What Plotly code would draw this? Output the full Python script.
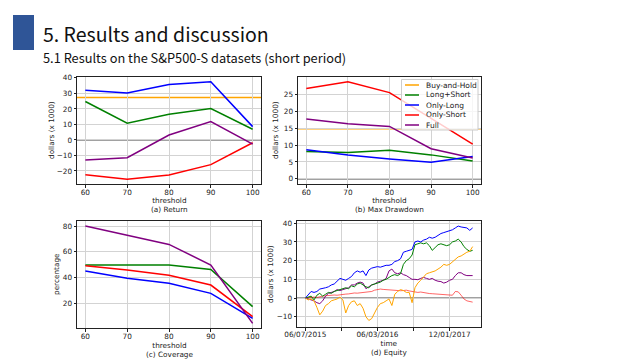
import plotly.graph_objects as go

# ---------------- data ----------------
thresholds = [60, 70, 80, 90, 100]
series_names = ["Buy-and-Hold", "Long+Short", "Only-Long", "Only-Short", "Full"]
series_colors = ["orange", "green", "blue", "red", "purple"]

# (a) Return (dollars x 1000)
return_bh = 27.4
return_ls = [24.8, 10.8, 16.6, 20.3, 6.9]
return_ol = [32.0, 30.3, 35.7, 37.6, 8.6]
return_os = [-22.4, -25.4, -22.6, -15.9, -1.8]
return_full = [-13.0, -11.4, 3.2, 11.8, -2.7]

# (b) Max Drawdown (dollars x 1000)
mdd_bh = 14.8
mdd_ls = [8.1, 7.8, 8.5, 7.1, 5.3]
mdd_ol = [8.6, 7.1, 5.9, 4.9, 6.6]
mdd_os = [26.7, 28.7, 25.5, 17.8, 10.3]
mdd_full = [17.7, 16.3, 15.5, 8.9, 6.2]

# (c) Coverage (percentage)
cov_ls = [49.9, 49.8, 49.9, 46.5, 17.7]
cov_ol = [45.2, 39.6, 35.7, 28.0, 8.7]
cov_os = [49.4, 46.0, 41.9, 34.4, 10.0]
cov_full = [80.0, 73.0, 65.8, 49.9, 4.8]

# (d) Equity (dollars x 1000), sampled every 8 trading days
day_index = list(range(0, 465, 8))
equity_bh = [0, -1, -0.5, -1.5, -5, -9, -7, -4, -3, -1.5, -1, -0.5, 0.5, -1, -8, -4,
             -2, -1.5, -4, -3, -5.5, -10, -12, -11, -8, -5, -3, -2.5, -1.5, -0.5, -4, 2,
             3.5, 4.5, 4, 3, 3, -2.5, 5.5, 8, 9.5, 11, 13, 13.5, 14, 14.5, 15.5, 16.5,
             18, 17.5, 18, 19.5, 21, 22, 22.5, 23.5, 24.5, 25, 27.5]
equity_ls = [0, 0.5, 1, -1, 1.5, 2.5, 1, 2, 3, 2.5, 3.5, 4, 4.5, 5, 5.5, 5,
             6.5, 6, 7.5, 8, 7, 6, 5.5, 7, 7.5, 8, 8.5, 9.5, 10, 11, 12, 12.5,
             12, 13, 18, 20, 21, 23, 28.5, 29, 29.5, 29, 29.5, 28, 25.5, 27, 28.5, 29,
             28.5, 28, 28.5, 30, 30.5, 31.5, 30, 27.5, 26, 25, 25.5]
equity_ol = [0, 1.5, 3.5, 3, 3.5, 4.8, 5, 5.5, 6, 7, 7.5, 9, 10.5, 10, 9.5, 10.5,
             11.5, 13.5, 14.5, 13.8, 14.5, 12, 15, 16, 16.2, 16.8, 16.5, 17, 17.5, 17.5, 18, 19.5,
             20, 21, 24.5, 25, 25.5, 26, 30, 30.5, 30, 31, 31.5, 32.5, 32, 32.5, 33.5, 34.5,
             35, 35.5, 36, 36.5, 37.5, 38.5, 38, 37.8, 37.5, 36.2, 37.5]
equity_os = [0, 0.3, 0.5, 0.5, 0.3, 0.8, 1, 1.2, 1.4, 1.5, 1.6, 1.5, 1.8, 2, 2.1, 2.2,
             2.5, 2.7, 2.6, 2.8, 3, 3.1, 3.2, 3.5, 4.2, 4.5, 4.8, 4.6, 4.5, 4.4, 4.3, 4,
             3.8, 3.9, 4, 4.2, 3.8, 3.5, 3.2, 3, 3.2, 2.8, 2.5, 2.4, 2.3, 2.2, 2, 1.8,
             1.6, 1.5, 1.6, 1.5, 3.5, 3.3, 1.5, -0.5, -1.5, -2, -2.2]
equity_full = [0, -0.5, -1, -1.5, -2.5, -3, -1.5, 1, 2.5, 3, 3.5, 4.5, 4, 4.5, 5, 5.5,
               7, 7, 8, 8.5, 8, 5, 6, 7, 7.5, 8.5, 9, 9.5, 10.5, 14.5, 15.5, 13.5,
               13, 13.5, 12.5, 12, 11, 10, 10, 9.8, 10.5, 11, 10.5, 10, 10.5, 9.5, 9, 8.8,
               8, 8.5, 9.5, 10, 12, 13.5, 13.5, 12.5, 12, 12, 12]
equity_tickvals = [0, 100, 200, 300, 400]
equity_ticktext = ["06/07/2015", "", "06/03/2016", "", "12/01/2017"]

# ---------------- figure ----------------
W, H = 640, 360


def fx(px):
    return px / W


def fy(py):
    return 1 - py / H


fig = go.Figure()

panels = {
    "a": dict(xd=[fx(77), fx(261)], yd=[fy(184), fy(77)]),
    "b": dict(xd=[fx(298), fx(481)], yd=[fy(184), fy(77)]),
    "c": dict(xd=[fx(77), fx(261)], yd=[fy(328), fy(221)]),
    "d": dict(xd=[fx(297), fx(481)], yd=[fy(327), fy(221)]),
}


def add_lines(vals_list, xa, ya, width=1.5):
    for name, col, vals in zip(series_names[1:], series_colors[1:], vals_list):
        fig.add_trace(go.Scatter(x=thresholds, y=vals, mode="lines", name=name,
                                 line=dict(color=col, width=width),
                                 xaxis=xa, yaxis=ya, showlegend=False))


add_lines([return_ls, return_ol, return_os, return_full], "x", "y")
add_lines([mdd_ls, mdd_ol, mdd_os, mdd_full], "x2", "y2")
add_lines([cov_ls, cov_ol, cov_os, cov_full], "x3", "y3")

eq_series = [("Only-Short", "rgba(255,0,0,0.6)", equity_os),
             ("Full", "purple", equity_full),
             ("Long+Short", "green", equity_ls),
             ("Only-Long", "blue", equity_ol),
             ("Buy-and-Hold", "orange", equity_bh)]
for name, col, vals in eq_series:
    fig.add_trace(go.Scatter(x=day_index, y=vals, mode="lines", name=name,
                             line=dict(color=col, width=1), xaxis="x4", yaxis="y4",
                             showlegend=False))

tickfont = dict(family="DejaVu Sans", size=7.3, color="#222")
axis_common = dict(showline=True, linecolor="#222", linewidth=1, mirror=True,
                   ticks="outside", ticklen=2.5, tickcolor="#222", tickfont=tickfont,
                   showgrid=True, gridcolor="#d3d3d3", gridwidth=1, zeroline=False)

layout = dict(
    width=W, height=H, margin=dict(l=0, r=0, t=0, b=0, autoexpand=False),
    paper_bgcolor="white", plot_bgcolor="white", showlegend=False,
)

thr_ticks = dict(tickmode="array", tickvals=thresholds, ticklabelstandoff=-1)
layout["xaxis"] = dict(axis_common, domain=panels["a"]["xd"], anchor="y", range=[58, 102], **thr_ticks)
layout["yaxis"] = dict(axis_common, domain=panels["a"]["yd"], anchor="x", range=[-28.4, 40.6],
                       tickmode="array", tickvals=[-20, -10, 0, 10, 20, 30, 40],
                       ticktext=["\u221220", "\u221210", "0", "10", "20", "30", "40"])
layout["xaxis2"] = dict(axis_common, domain=panels["b"]["xd"], anchor="y2", range=[58, 102], **thr_ticks)
layout["yaxis2"] = dict(axis_common, domain=panels["b"]["yd"], anchor="x2", range=[-1.5, 30.1],
                        tickmode="array", tickvals=[0, 5, 10, 15, 20, 25])
layout["xaxis3"] = dict(axis_common, domain=panels["c"]["xd"], anchor="y3", range=[58, 102], **thr_ticks)
layout["yaxis3"] = dict(axis_common, domain=panels["c"]["yd"], anchor="x3", range=[1.2, 83.9],
                        tickmode="array", tickvals=[20, 40, 60, 80])
layout["xaxis4"] = dict(axis_common, domain=panels["d"]["xd"], anchor="y4", range=[-23.2, 487.2],
                        tickmode="array", tickvals=equity_tickvals, ticktext=equity_ticktext,
                        ticklabelstandoff=-2)
layout["yaxis4"] = dict(axis_common, domain=panels["d"]["yd"], anchor="x4", range=[-15.5, 41.2],
                        tickmode="array", tickvals=[-10, 0, 10, 20, 30, 40],
                        ticktext=["\u221210", "0", "10", "20", "30", "40"])
fig.update_layout(**layout)

shapes = []
# zero lines
for xa, ya in [("x", "y"), ("x2", "y2"), ("x4", "y4")]:
    shapes.append(dict(type="line", xref=f"{xa} domain", yref=ya, x0=0, x1=1, y0=0, y1=0,
                       line=dict(color="#444", width=1.2), layer="below"))
# buy-and-hold horizontal lines
shapes.append(dict(type="line", xref="x domain", yref="y", x0=0, x1=1, y0=return_bh, y1=return_bh,
                   line=dict(color="orange", width=1.5), layer="below"))
shapes.append(dict(type="line", xref="x2 domain", yref="y2", x0=0, x1=1, y0=mdd_bh, y1=mdd_bh,
                   line=dict(color="orange", width=1.5), layer="below"))
# slide decoration
shapes.append(dict(type="rect", xref="paper", yref="paper", x0=fx(13), x1=fx(34), y0=fy(50), y1=fy(15),
                   fillcolor="#2F5597", line=dict(width=0), layer="above"))

lab = dict(family="DejaVu Sans", size=7.3, color="#222")
ann = []


def text(px, py, s, font, angle=0, xanchor="center", yanchor="middle"):
    ann.append(dict(x=fx(px), y=fy(py), xref="paper", yref="paper", text=s, showarrow=False,
                    font=font, textangle=angle, xanchor=xanchor, yanchor=yanchor,
                    borderpad=0))


# manual legend in panel (b)
shapes.append(dict(type="rect", xref="paper", yref="paper", x0=fx(401.5), x1=fx(478), y0=fy(130), y1=fy(79.5),
                   fillcolor="rgba(255,255,255,0.8)", line=dict(color="#cccccc", width=1), layer="above"))
legend_rows = [85, 95, 105, 115, 125]
for name, col, ry in zip(series_names, series_colors, legend_rows):
    shapes.append(dict(type="line", xref="paper", yref="paper", x0=fx(405), x1=fx(419), y0=fy(ry), y1=fy(ry),
                       line=dict(color=col, width=1.5), layer="above"))
    text(424.5, ry, name, dict(lab, size=7.5), xanchor="left")

fig.update_layout(shapes=shapes)

text(169, 195.5, "threshold<br>(a) Return", lab, yanchor="top")
text(389.5, 195.5, "threshold<br>(b) Max Drawdown", lab, yanchor="top")
text(169, 339.5, "threshold<br>(c) Coverage", lab, yanchor="top")
text(389, 337.5, "time<br>(d) Equity", lab, yanchor="top")
text(51, 130, "dollars (x 1000)", lab, angle=-90)
text(275, 130, "dollars (x 1000)", lab, angle=-90)
text(56, 274, "percentage", lab, angle=-90)
text(270, 274, "dollars (x 1000)", lab, angle=-90)

text(42, 33, "5. Results and discussion",
     dict(family="Noto Sans CJK KR", size=19.5, color="#111"), xanchor="left")
text(42, 58, "5.1 Results on the S&amp;P500-S datasets (short period)",
     dict(family="Noto Sans CJK KR", size=12.8, color="#111"), xanchor="left")
fig.update_layout(annotations=ann)

post = ("document.body.style.margin='0px';document.body.style.padding='0px';"
        "var d=document.getElementById('{plot_id}');"
        "d.style.position='fixed';d.style.left='0px';d.style.top='0px';")
fig.write_html("out.html", post_script=post, config={"displayModeBar": False})
